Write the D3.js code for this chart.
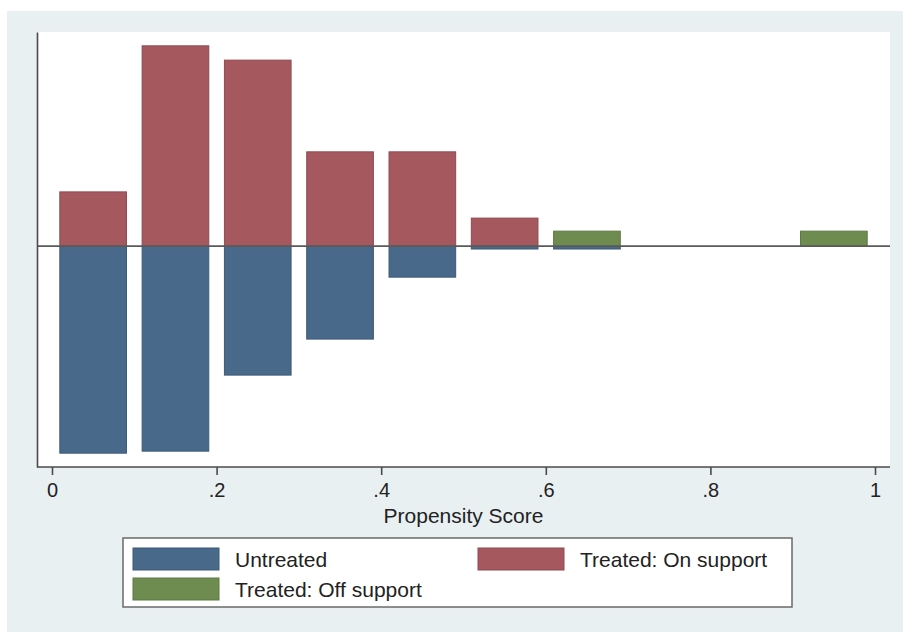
<!DOCTYPE html>
<html>
<head>
<meta charset="utf-8">
<script src="https://cdn.jsdelivr.net/npm/d3@7/dist/d3.min.js"></script>
<style>
  html, body { margin: 0; padding: 0; background: #ffffff; }
  svg { display: block; font-family: "Liberation Sans", Arial, Helvetica, sans-serif; }
</style>
</head>
<body>
<svg id="chart" width="903" height="632"></svg>
<script>
// Histogram bins (midpoints of 0.1-wide propensity score bins)
const binMids = [0.05, 0.15, 0.25, 0.35, 0.45, 0.55, 0.65, 0.75, 0.85, 0.95];
// Bar heights (density) per group; drawn up for treated, down for untreated
const treatedOn  = [0.0565, 0.2086, 0.1937, 0.0982, 0.0982, 0.0292, 0, 0, 0, 0];
const treatedOff = [0, 0, 0, 0, 0, 0, 0.0156, 0, 0, 0.0156];
const untreated  = [0.2156, 0.2135, 0.1343, 0.0968, 0.0323, 0.0030, 0.0030, 0, 0, 0];
const xTicks = [0, 0.2, 0.4, 0.6, 0.8, 1];
const xTickLabels = ["0", ".2", ".4", ".6", ".8", "1"];
const legendLabels = ["Untreated", "Treated: On support", "Treated: Off support"];
const xTitle = "Propensity Score";

const colors = {
  untreated: { fill: "#49698a", stroke: "#3d5a78" },
  on:        { fill: "#a5585e", stroke: "#8f4a50" },
  off:       { fill: "#6e8c4f", stroke: "#5d7842" }
};

const svg = d3.select("#chart");

// Outer graph region
svg.append("rect").attr("x", 7).attr("y", 11).attr("width", 896).attr("height", 621)
  .attr("fill", "#e9f0f2");

// Plot region
const plot = { left: 37, right: 890, top: 32, bottom: 467 };
svg.append("rect")
  .attr("x", plot.left).attr("y", plot.top)
  .attr("width", plot.right - plot.left).attr("height", plot.bottom - plot.top)
  .attr("fill", "#ffffff");

const x = d3.scaleLinear().domain([0, 1]).range([52, 875]);
const y = d3.scaleLinear().domain([-0.23, 0.223]).range([plot.bottom, plot.top]);
const barW = 0.081; // bar width in score units

function drawBars(values, dir, col) {
  const data = binMids.map((m, i) => ({ m, v: values[i] })).filter(d => d.v > 0);
  svg.append("g").selectAll("rect").data(data).join("rect")
    .attr("x", d => x(d.m - barW / 2))
    .attr("width", d => x(d.m + barW / 2) - x(d.m - barW / 2))
    .attr("y", d => dir > 0 ? y(d.v) : y(0))
    .attr("height", d => Math.abs(y(d.v) - y(0)))
    .attr("fill", col.fill)
    .attr("stroke", col.stroke)
    .attr("stroke-width", 1);
}

drawBars(untreated, -1, colors.untreated);
drawBars(treatedOn, 1, colors.on);
drawBars(treatedOff, 1, colors.off);

// Zero reference line
svg.append("line")
  .attr("x1", plot.left).attr("x2", plot.right)
  .attr("y1", y(0)).attr("y2", y(0))
  .attr("stroke", "#5a5a5a").attr("stroke-width", 1.6);

// Left axis (line only)
const yAxis = svg.append("g").attr("transform", `translate(${plot.left},0)`)
  .call(d3.axisLeft(y).tickValues([]).tickSizeOuter(0));
yAxis.select(".domain").attr("stroke", "#4a4a4a").attr("stroke-width", 1.6);

// Bottom axis line across the plot region
svg.append("line")
  .attr("x1", plot.left).attr("x2", plot.right)
  .attr("y1", plot.bottom).attr("y2", plot.bottom)
  .attr("stroke", "#4a4a4a").attr("stroke-width", 1.6);

const xAxis = svg.append("g").attr("transform", `translate(0,${plot.bottom})`)
  .call(d3.axisBottom(x).tickValues(xTicks)
    .tickFormat((d, i) => xTickLabels[i]).tickSize(8).tickPadding(8));
xAxis.select(".domain").remove();
xAxis.selectAll(".tick line").attr("stroke", "#4a4a4a").attr("stroke-width", 1.6);
xAxis.selectAll(".tick text")
  .attr("font-size", 20).attr("fill", "#222222")
  .attr("font-family", "Liberation Sans, Arial, sans-serif");

svg.append("text")
  .attr("x", (plot.left + plot.right) / 2).attr("y", 523)
  .attr("text-anchor", "middle").attr("font-size", 21).attr("fill", "#222222")
  .text(xTitle);

// Legend
const lg = svg.append("g");
lg.append("rect").attr("x", 123).attr("y", 538).attr("width", 669).attr("height", 69)
  .attr("fill", "#ffffff").attr("stroke", "#6a6a6a").attr("stroke-width", 1.5);

const legendItems = [
  { label: legendLabels[0], col: colors.untreated, sx: 133, tx: 235, sy: 548 },
  { label: legendLabels[1], col: colors.on,        sx: 478, tx: 580, sy: 548 },
  { label: legendLabels[2], col: colors.off,       sx: 133, tx: 235, sy: 578 }
];
legendItems.forEach(it => {
  lg.append("rect").attr("x", it.sx).attr("y", it.sy).attr("width", 86).attr("height", 22)
    .attr("fill", it.col.fill).attr("stroke", it.col.stroke).attr("stroke-width", 1);
  lg.append("text").attr("x", it.tx).attr("y", it.sy + 19)
    .attr("font-size", 21).attr("fill", "#222222").text(it.label);
});
</script>
</body>
</html>
